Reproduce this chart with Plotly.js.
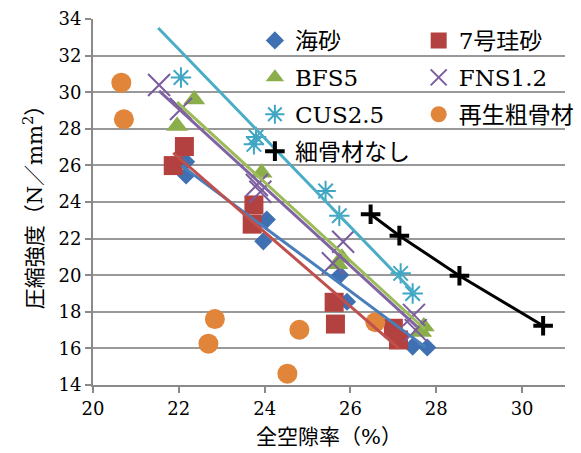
<!DOCTYPE html>
<html>
<head>
<meta charset="utf-8">
<script src="https://cdn.plot.ly/plotly-3.0.1.min.js"></script>
<style>html,body{margin:0;padding:0;background:#fff}</style>
</head>
<body>
<div id="chart" style="width:581px;height:453px"></div>
<script>
// 全空隙率 (%) and 圧縮強度 (N/mm2) for each fine aggregate
const seaSandX = [22.17, 22.17, 24.05, 23.97, 25.76, 25.92, 27.45, 27.79];
const seaSandY = [25.45, 26.2, 23.04, 21.85, 20.01, 18.55, 16.1, 16.05];

const silica7X = [21.87, 22.13, 23.75, 23.71, 25.62, 25.65, 27.0, 27.12];
const silica7Y = [25.99, 27.03, 23.84, 22.79, 18.52, 17.33, 17.1, 16.46];

const bfs5X = [21.96, 22.36, 23.93, 25.8, 25.7, 27.71, 27.65];
const bfs5Y = [28.15, 29.6, 25.6, 20.95, 20.6, 17.2, 16.9];

const fns12X = [21.54, 22.05, 23.82, 23.9, 25.83, 25.59, 27.48, 27.52];
const fns12Y = [30.39, 29.08, 24.93, 24.56, 21.83, 20.65, 17.83, 17.0];

const cus25X = [22.05, 23.8, 23.75, 25.42, 25.74, 27.17, 27.45];
const cus25Y = [30.8, 27.55, 27.15, 24.6, 23.25, 20.1, 19.0];

const recycledX = [20.66, 20.72, 22.84, 22.69, 24.81, 24.53, 26.58];
const recycledY = [30.52, 28.52, 17.6, 16.26, 17.02, 14.62, 17.43];

const noFineX = [26.47, 27.14, 28.54, 30.49];
const noFineY = [23.33, 22.16, 19.97, 17.24];

// linear trend lines (start and end of each fitted line)
const seaSandTrendX = [22.06, 27.75];
const seaSandTrendY = [25.99, 16.07];
const silica7TrendX = [21.87, 27.13];
const silica7TrendY = [26.68, 16.0];
const bfs5TrendX = [21.96, 27.73];
const bfs5TrendY = [29.46, 17.06];
const fns12TrendX = [21.54, 27.55];
const fns12TrendY = [30.07, 17.19];
const cus25TrendX = [21.52, 27.52];
const cus25TrendY = [33.51, 18.95];

const xTicks = [20, 22, 24, 26, 28, 30];
const yTicks = [14, 16, 18, 20, 22, 24, 26, 28, 30, 32, 34];

const serif = '"DejaVu Serif", "Noto Sans CJK JP", serif';

function pts(name, x, y, marker, legend, group) {
  return {
    type: 'scatter', mode: 'markers', name: name, x: x, y: y,
    marker: marker, legend: legend, legendgroup: group, cliponaxis: false
  };
}
function trend(x, y, color) {
  return {
    type: 'scatter', mode: 'lines', x: x, y: y, showlegend: false,
    line: {color: color, width: 3}, hoverinfo: 'skip'
  };
}

const traces = [
  pts('海砂', seaSandX, seaSandY, {symbol: 'diamond', size: 14, color: '#3E70B2'}, 'legend', 'a'),
  pts('7号珪砂', silica7X, silica7Y, {symbol: 'square', size: 19, color: '#B2413F'}, 'legend2', 'b'),
  pts('BFS5', bfs5X, bfs5Y, {symbol: 'triangle-up', size: 19, color: '#8BAE4A'}, 'legend', 'c'),
  pts('FNS1.2', fns12X, fns12Y, {symbol: 'x-thin-open', size: 22, color: '#7A5C9F', line: {color: '#7A5C9F', width: 2}}, 'legend2', 'd'),
  pts('CUS2.5', cus25X, cus25Y, {symbol: 'asterisk-open', size: 17, color: '#3FA7C3', line: {color: '#3FA7C3', width: 2}}, 'legend', 'e'),
  pts('再生粗骨材', recycledX, recycledY, {symbol: 'circle', size: 20, color: '#E0853A'}, 'legend2', 'f'),
  pts('細骨材なし', noFineX, noFineY, {symbol: 'cross-thin-open', size: 14, color: '#000000', line: {color: '#000000', width: 4}}, 'legend', 'g'),
  trend(seaSandTrendX, seaSandTrendY, '#4A7EBB'),
  trend(silica7TrendX, silica7TrendY, '#C0504D'),
  trend(bfs5TrendX, bfs5TrendY, '#9BBB59'),
  trend(fns12TrendX, fns12TrendY, '#8064A2'),
  trend(cus25TrendX, cus25TrendY, '#4BACC6'),
  {type: 'scatter', mode: 'lines', x: noFineX, y: noFineY, showlegend: false,
   line: {color: '#000000', width: 3}, hoverinfo: 'skip'}
];

const legendBase = {
  bgcolor: 'rgba(0,0,0,0)', borderwidth: 0,
  font: {family: serif, size: 23, color: '#000'},
  traceorder: 'grouped', tracegroupgap: 4,
  xanchor: 'left', yanchor: 'top', itemsizing: 'trace'
};

const layout = {
  width: 581, height: 453,
  margin: {l: 93, r: 16, t: 19, b: 68, autoexpand: false},
  paper_bgcolor: '#fff', plot_bgcolor: '#fff',
  showlegend: true,
  font: {family: serif, color: '#000'},
  xaxis: {
    range: [20, 31], tickvals: xTicks, ticktext: xTicks.map(String),
    showgrid: false, zeroline: false,
    showline: true, linecolor: '#8A8A8A', linewidth: 2,
    ticks: 'outside', ticklen: 6, tickcolor: '#8A8A8A', tickwidth: 2,
    tickfont: {family: serif, size: 18, color: '#000'},
    title: {text: '全空隙率（%）', font: {family: serif, size: 21, color: '#000'}, standoff: 12}
  },
  yaxis: {
    range: [14, 34], tickvals: yTicks, ticktext: yTicks.map(String),
    showgrid: true, gridcolor: '#999999', gridwidth: 2, zeroline: false,
    showline: true, linecolor: '#8A8A8A', linewidth: 2,
    ticks: 'outside', ticklen: 6, tickcolor: '#8A8A8A', tickwidth: 2,
    tickfont: {family: serif, size: 18, color: '#000'},
    title: {text: '圧縮強度（N／mm<sup>2</sup>）', font: {family: serif, size: 21, color: '#000'}, standoff: 10}
  },
  legend: Object.assign({}, legendBase, {x: 0.343, y: 1.0}),
  legend2: Object.assign({}, legendBase, {x: 0.69, y: 1.0})
};

Plotly.newPlot('chart', traces, layout, {displayModeBar: false, staticPlot: true});
</script>
</body>
</html>
